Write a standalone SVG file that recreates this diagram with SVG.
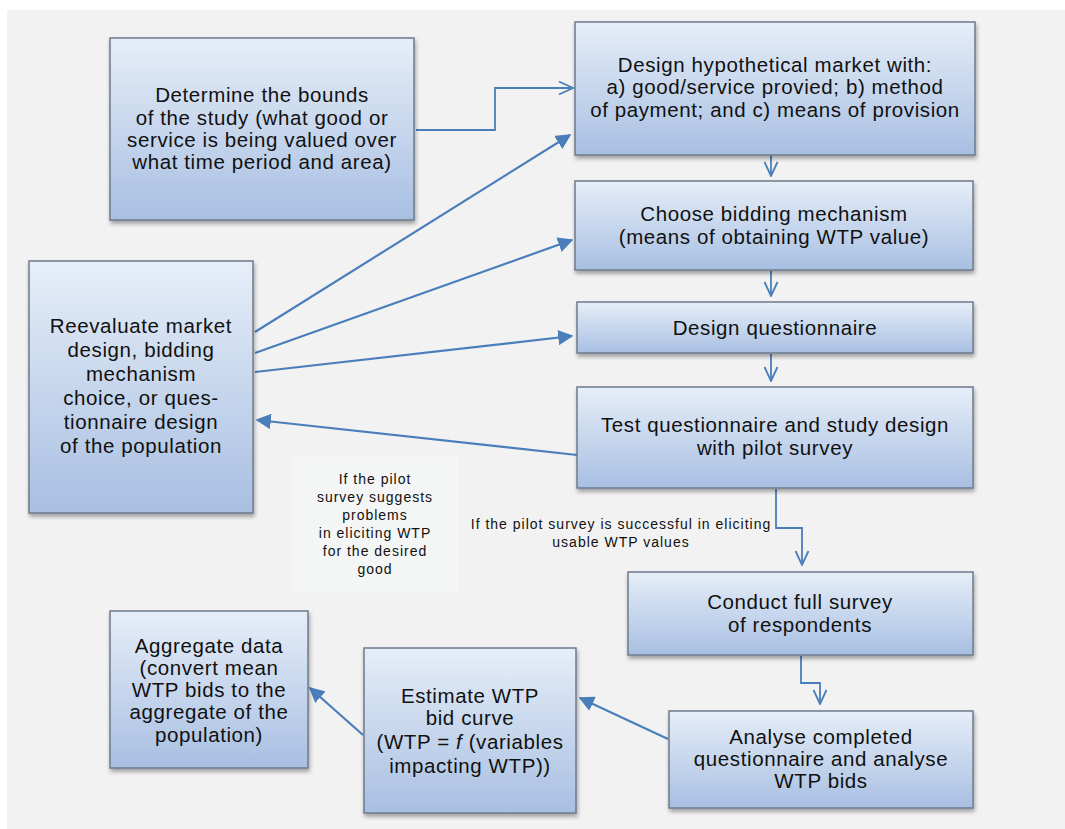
<svg xmlns="http://www.w3.org/2000/svg" width="1065" height="829" viewBox="0 0 1065 829">
<defs>
<linearGradient id="bg" x1="0" y1="0" x2="0" y2="1">
<stop offset="0" stop-color="#e6eef8"/>
<stop offset="1" stop-color="#a8bfe2"/>
</linearGradient>
<filter id="sh" x="-10%" y="-10%" width="125%" height="130%">
<feGaussianBlur in="SourceAlpha" stdDeviation="2"/>
<feOffset dx="1" dy="3" result="b"/>
<feComponentTransfer><feFuncA type="linear" slope="0.35"/></feComponentTransfer>
<feMerge><feMergeNode/><feMergeNode in="SourceGraphic"/></feMerge>
</filter>
<marker id="fa" viewBox="0 0 10 10" refX="9" refY="5" markerWidth="7" markerHeight="7" markerUnits="strokeWidth" orient="auto">
<path d="M0,0 L10,5 L0,10 z" fill="#4a7ebb"/>
</marker>
<marker id="oa" viewBox="0 0 16 16" refX="15" refY="8" markerWidth="16" markerHeight="16" markerUnits="userSpaceOnUse" orient="auto">
<path d="M1,1.5 L15,8 L1,14.5" fill="none" stroke="#4a7ebb" stroke-width="1.8"/>
</marker>
</defs>
<style>
.box{fill:url(#bg);stroke:#6e7a8c;stroke-width:1.5;filter:url(#sh)}
.t{font-family:"Liberation Sans",Arial,sans-serif;font-size:20.5px;letter-spacing:0.6px;fill:#111;text-anchor:middle}
.s{font-family:"Liberation Sans",Arial,sans-serif;font-size:14px;letter-spacing:1px;fill:#111;text-anchor:middle}
.c{fill:none;stroke:#4a7ebb;stroke-width:2.2}
.o{fill:none;stroke:#4a7ebb;stroke-width:1.8}
</style>
<rect x="0" y="0" width="1065" height="829" fill="#ffffff"/>
<rect x="7" y="10" width="1058" height="819" fill="#f2f2f2"/>
<rect x="293" y="457" width="165" height="135" fill="#f4f5f5"/>

<g id="connectors">
<polyline class="o" points="416,130 495,130 495,88 573,88" marker-end="url(#oa)"/>
<line class="o" x1="771" y1="155" x2="771" y2="176" marker-end="url(#oa)"/>
<line class="o" x1="771" y1="271" x2="771" y2="296" marker-end="url(#oa)"/>
<line class="o" x1="771" y1="354" x2="771" y2="381" marker-end="url(#oa)"/>
<polyline class="o" points="776,489 776,528 802,528 802,565" marker-end="url(#oa)"/>
<polyline class="o" points="801,656 801,683 820,683 820,704" marker-end="url(#oa)"/>
<line class="c" x1="255" y1="332" x2="570" y2="135" marker-end="url(#fa)"/>
<line class="c" x1="255" y1="353" x2="572" y2="240" marker-end="url(#fa)"/>
<line class="c" x1="255" y1="372" x2="572" y2="336" marker-end="url(#fa)"/>
<line class="c" x1="577" y1="455" x2="257" y2="420" marker-end="url(#fa)"/>
<line class="c" x1="668" y1="739" x2="580" y2="698" marker-end="url(#fa)"/>
<line class="c" x1="363" y1="735" x2="310" y2="688" marker-end="url(#fa)"/>
</g>

<g id="n-bounds">
<rect class="box" x="110" y="38" width="304" height="182"/>
<text class="t"><tspan x="262" y="102">Determine the bounds</tspan><tspan x="262" y="125">of the study (what good or</tspan><tspan x="262" y="147">service is being valued over</tspan><tspan x="262" y="169">what time period and area)</tspan></text>
</g>
<g id="n-market">
<rect class="box" x="575" y="22" width="400" height="133"/>
<text class="t"><tspan x="775" y="72">Design hypothetical market with:</tspan><tspan x="775" y="94">a) good/service provied; b) method</tspan><tspan x="775" y="117">of payment; and c) means of provision</tspan></text>
</g>
<g id="n-bidding">
<rect class="box" x="575" y="181" width="398" height="89"/>
<text class="t"><tspan x="774" y="221">Choose bidding mechanism</tspan><tspan x="774" y="244">(means of obtaining WTP value)</tspan></text>
</g>
<g id="n-questionnaire">
<rect class="box" x="577" y="302" width="396" height="51"/>
<text class="t" x="775" y="335">Design questionnaire</text>
</g>
<g id="n-test">
<rect class="box" x="577" y="387" width="396" height="101"/>
<text class="t"><tspan x="775" y="432">Test questionnaire and study design</tspan><tspan x="775" y="455">with pilot survey</tspan></text>
</g>
<g id="n-reevaluate">
<rect class="box" x="29" y="261" width="224" height="252"/>
<text class="t"><tspan x="141" y="333">Reevaluate market</tspan><tspan x="141" y="357">design, bidding</tspan><tspan x="141" y="381">mechanism</tspan><tspan x="141" y="405">choice, or ques-</tspan><tspan x="141" y="429">tionnaire design</tspan><tspan x="141" y="453">of the population</tspan></text>
</g>
<g id="n-conduct">
<rect class="box" x="628" y="572" width="345" height="83"/>
<text class="t"><tspan x="800" y="609">Conduct full survey</tspan><tspan x="800" y="632">of respondents</tspan></text>
</g>
<g id="n-analyse">
<rect class="box" x="669" y="711" width="304" height="97"/>
<text class="t"><tspan x="821" y="744">Analyse completed</tspan><tspan x="821" y="766">questionnaire and analyse</tspan><tspan x="821" y="788">WTP bids</tspan></text>
</g>
<g id="n-estimate">
<rect class="box" x="364" y="648" width="212" height="165"/>
<text class="t"><tspan x="470" y="703">Estimate WTP</tspan><tspan x="470" y="725">bid curve</tspan><tspan x="470" y="749">(WTP = <tspan font-style="italic">f</tspan> (variables</tspan><tspan x="470" y="773">impacting WTP))</tspan></text>
</g>
<g id="n-aggregate">
<rect class="box" x="110" y="611" width="198" height="157"/>
<text class="t"><tspan x="209" y="653">Aggregate data</tspan><tspan x="209" y="675">(convert mean</tspan><tspan x="209" y="697">WTP bids to the</tspan><tspan x="209" y="719">aggregate of the</tspan><tspan x="209" y="742">population)</tspan></text>
</g>

<g id="label-fail">
<text class="s"><tspan x="375" y="484">If the pilot</tspan><tspan x="375" y="502">survey suggests</tspan><tspan x="375" y="520">problems</tspan><tspan x="375" y="538">in eliciting WTP</tspan><tspan x="375" y="556">for the desired</tspan><tspan x="375" y="574">good</tspan></text>
</g>
<g id="label-success">
<text class="s"><tspan x="621" y="529">If the pilot survey is successful in eliciting</tspan><tspan x="621" y="547">usable WTP values</tspan></text>
</g>
</svg>
